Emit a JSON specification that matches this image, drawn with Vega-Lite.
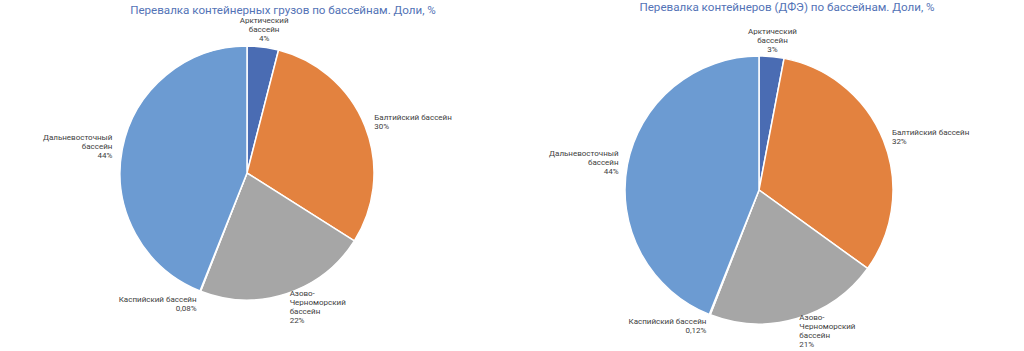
{
  "$schema": "https://vega.github.io/schema/vega-lite/v6.json",
  "padding": {"top": 2, "left": 0, "right": 0, "bottom": 0},
  "spacing": 0,
  "background": "#ffffff",
  "config": {
    "view": {"stroke": null},
    "font": "Roboto",
    "title": {"font": "Roboto", "fontSize": 11.6, "fontWeight": "normal", "color": "#5373b6", "anchor": "middle", "offset": 4}
  },
  "datasets": {
    "cargo": [
      {"n": 1, "basin": "Арктический бассейн", "share": 4, "label": "Арктический\nбассейн\n4%"},
      {"n": 2, "basin": "Балтийский бассейн", "share": 30, "label": "Балтийский бассейн\n30%"},
      {"n": 3, "basin": "Азово-Черноморский бассейн", "share": 22, "label": "Азово-\nЧерноморский\nбассейн\n22%"},
      {"n": 4, "basin": "Каспийский бассейн", "share": 0.08, "label": "Каспийский бассейн\n0,08%"},
      {"n": 5, "basin": "Дальневосточный бассейн", "share": 44, "label": "Дальневосточный\nбассейн\n44%"}
    ],
    "teu": [
      {"n": 1, "basin": "Арктический бассейн", "share": 3, "label": "Арктический\nбассейн\n3%"},
      {"n": 2, "basin": "Балтийский бассейн", "share": 32, "label": "Балтийский бассейн\n32%"},
      {"n": 3, "basin": "Азово-Черноморский бассейн", "share": 21, "label": "Азово-\nЧерноморский\nбассейн\n21%"},
      {"n": 4, "basin": "Каспийский бассейн", "share": 0.12, "label": "Каспийский бассейн\n0,12%"},
      {"n": 5, "basin": "Дальневосточный бассейн", "share": 44, "label": "Дальневосточный\nбассейн\n44%"}
    ]
  },
  "hconcat": [
    {
      "width": 494,
      "height": 318,
      "title": {"text": "Перевалка контейнерных грузов по бассейнам. Доли, %", "dx": 36, "dy": 4, "offset": 1},
      "data": {"name": "cargo"},
      "encoding": {
        "theta": {"field": "share", "type": "quantitative", "stack": true},
        "order": {"field": "n", "type": "ordinal"},
        "color": {"field": "basin", "type": "nominal", "legend": null,
          "scale": {"domain": ["Арктический бассейн", "Балтийский бассейн", "Азово-Черноморский бассейн", "Каспийский бассейн", "Дальневосточный бассейн"],
                    "range": ["#4a6cb3", "#e3823f", "#a6a6a6", "#6c9bd2", "#6c9bd2"]}}
      },
      "layer": [
        {"mark": {"type": "arc", "outerRadius": 127, "stroke": "#ffffff", "strokeWidth": 1.5}},
        {"mark": {"type": "text", "radius": 137, "fontSize": 8, "color": "#404040", "lineBreak": "\n", "lineHeight": 9,
          "align": {"expr": "((datum.share_start + datum.share_end) / 2 * 3.6) < 15 || ((datum.share_start + datum.share_end) / 2 * 3.6) > 345 ? 'center' : ((datum.share_start + datum.share_end) / 2 * 3.6) < 180 ? 'left' : 'right'"},
          "baseline": {"expr": "cos((datum.share_start + datum.share_end) / 2 * 3.6 * PI / 180) > 0.9 ? 'bottom' : 'middle'"},
          "dy": {"expr": "cos((datum.share_start + datum.share_end) / 2 * 3.6 * PI / 180) > 0.9 ? -(length(split(datum.label, '\\n')) - 1) * 9 + 6 : cos((datum.share_start + datum.share_end) / 2 * 3.6 * PI / 180) < -0.9 ? -(length(split(datum.label, '\\n')) - 1) * 4.5 + 4 : -(length(split(datum.label, '\\n')) - 1) * 4.5"}},
          "encoding": {"text": {"field": "label"}, "color": {"value": "#404040"}}}
      ]
    },
    {
      "width": 530,
      "height": 352,
      "title": {"text": "Перевалка контейнеров (ДФЭ) по бассейнам. Доли, %", "dx": 28, "dy": 4},
      "data": {"name": "teu"},
      "encoding": {
        "theta": {"field": "share", "type": "quantitative", "stack": true},
        "order": {"field": "n", "type": "ordinal"},
        "color": {"field": "basin", "type": "nominal", "legend": null,
          "scale": {"domain": ["Арктический бассейн", "Балтийский бассейн", "Азово-Черноморский бассейн", "Каспийский бассейн", "Дальневосточный бассейн"],
                    "range": ["#4a6cb3", "#e3823f", "#a6a6a6", "#6c9bd2", "#6c9bd2"]}}
      },
      "layer": [
        {"mark": {"type": "arc", "outerRadius": 134, "stroke": "#ffffff", "strokeWidth": 1.5}},
        {"mark": {"type": "text", "radius": 143, "fontSize": 8, "color": "#404040", "lineBreak": "\n", "lineHeight": 9,
          "align": {"expr": "((datum.share_start + datum.share_end) / 2 * 3.6) < 15 || ((datum.share_start + datum.share_end) / 2 * 3.6) > 345 ? 'center' : ((datum.share_start + datum.share_end) / 2 * 3.6) < 180 ? 'left' : 'right'"},
          "baseline": {"expr": "cos((datum.share_start + datum.share_end) / 2 * 3.6 * PI / 180) > 0.9 ? 'bottom' : 'middle'"},
          "dy": {"expr": "cos((datum.share_start + datum.share_end) / 2 * 3.6 * PI / 180) > 0.9 ? -(length(split(datum.label, '\\n')) - 1) * 9 + 6 : cos((datum.share_start + datum.share_end) / 2 * 3.6 * PI / 180) < -0.9 ? -(length(split(datum.label, '\\n')) - 1) * 4.5 + 4 : -(length(split(datum.label, '\\n')) - 1) * 4.5"}},
          "encoding": {"text": {"field": "label"}, "color": {"value": "#404040"}}}
      ]
    }
  ]
}
